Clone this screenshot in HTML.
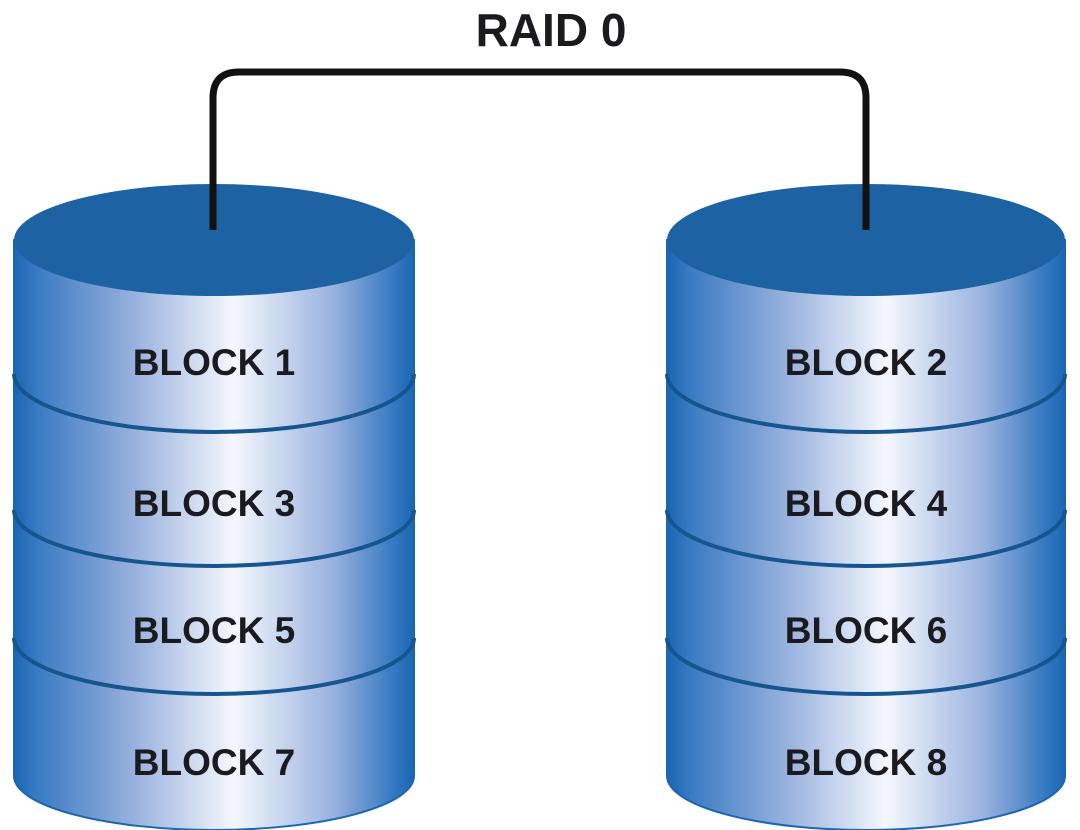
<!DOCTYPE html>
<html><head><style>
html,body{margin:0;padding:0;background:#fff;}
svg{display:block;}
text{font-family:"Liberation Sans",sans-serif;font-weight:bold;fill:#1b1b1f;}
</style></head><body>
<svg width="1080" height="830" viewBox="0 0 1080 830" xmlns="http://www.w3.org/2000/svg">
<defs>
<linearGradient id="g" x1="0" y1="0" x2="1" y2="0">
<stop offset="0" stop-color="#1a66b3"/>
<stop offset="0.06" stop-color="#3a7bc3"/>
<stop offset="0.3" stop-color="#98b1de"/>
<stop offset="0.55" stop-color="#f4f7fd"/>
<stop offset="0.8" stop-color="#98b1de"/>
<stop offset="0.95" stop-color="#3578c1"/>
<stop offset="1" stop-color="#1a66b3"/>
</linearGradient>
</defs>
<text x="551" y="46" font-size="46" text-anchor="middle">RAID 0</text>
<g>
<path d="M14,240 L14,776 A200 54 0 0 0 414,776 L414,240 Z" fill="url(#g)" stroke="#1a66b3" stroke-width="2"/>
<path d="M14,374 A200 58 0 0 0 414,374" fill="none" stroke="#17558f" stroke-width="4"/>
<path d="M14,510 A200 56 0 0 0 414,510" fill="none" stroke="#17558f" stroke-width="4"/>
<path d="M14,638 A200 56 0 0 0 414,638" fill="none" stroke="#17558f" stroke-width="4"/>
<ellipse cx="214" cy="240" rx="200" ry="56" fill="#1d62a2"/>
<text x="214" y="375" font-size="37" text-anchor="middle">BLOCK 1</text>
<text x="214" y="516" font-size="37" text-anchor="middle">BLOCK 3</text>
<text x="214" y="643" font-size="37" text-anchor="middle">BLOCK 5</text>
<text x="214" y="775" font-size="37" text-anchor="middle">BLOCK 7</text>
</g>
<g>
<path d="M667,240 L667,776 A199 54 0 0 0 1065,776 L1065,240 Z" fill="url(#g)" stroke="#1a66b3" stroke-width="2"/>
<path d="M667,374 A199 58 0 0 0 1065,374" fill="none" stroke="#17558f" stroke-width="4"/>
<path d="M667,510 A199 56 0 0 0 1065,510" fill="none" stroke="#17558f" stroke-width="4"/>
<path d="M667,638 A199 56 0 0 0 1065,638" fill="none" stroke="#17558f" stroke-width="4"/>
<ellipse cx="866" cy="240" rx="199" ry="56" fill="#1d62a2"/>
<text x="866" y="375" font-size="37" text-anchor="middle">BLOCK 2</text>
<text x="866" y="516" font-size="37" text-anchor="middle">BLOCK 4</text>
<text x="866" y="643" font-size="37" text-anchor="middle">BLOCK 6</text>
<text x="866" y="775" font-size="37" text-anchor="middle">BLOCK 8</text>
</g>
<path d="M213,230 L213,98 Q213,72 239,72 L840,72 Q866,72 866,98 L866,230" fill="none" stroke="#111" stroke-width="7"/>
</svg>
</body></html>
